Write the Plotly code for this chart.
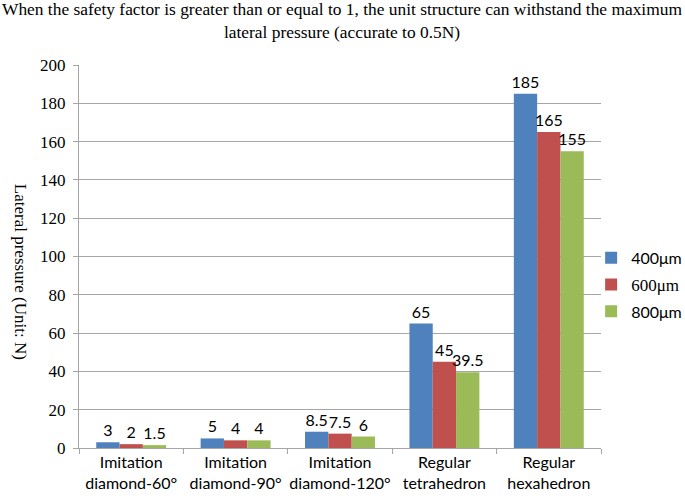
import plotly.graph_objects as go

categories = ["Imitation<br>diamond-60°", "Imitation<br>diamond-90°", "Imitation<br>diamond-120°",
              "Regular<br>tetrahedron", "Regular<br>hexahedron"]
series_names = ["400μm", "<span style=\"font-family:'Liberation Serif',serif;font-size:17px\">600μm</span>", "800μm"]
v400 = [3, 5, 8.5, 65, 185]
v600 = [2, 4, 7.5, 45, 165]
v800 = [1.5, 4, 6, 39.5, 155]
colors = ["#4F81BD", "#C0504D", "#9BBB59"]
y_ticks = [0, 20, 40, 60, 80, 100, 120, 140, 160, 180, 200]

SANS = "Lato, 'Open Sans', sans-serif"
SERIF = "'Liberation Serif', 'Times New Roman', serif"

fig = go.Figure()
for i, (name, vals, col) in enumerate(zip(series_names, [v400, v600, v800], colors)):
    fig.add_trace(go.Bar(
        x=categories, y=vals, name=name, legendgroup=f"g{i}",
        marker=dict(color=col, line=dict(width=0)),
        text=[f"{v:g}" for v in vals], textposition="outside", cliponaxis=False,
        constraintext="none", textfont=dict(family=SANS, size=16, color="black"),
    ))

fig.update_layout(
    width=685, height=503,
    margin=dict(l=79, r=84, t=65, b=55, autoexpand=False),
    paper_bgcolor="white", plot_bgcolor="white",
    barmode="group", bargap=0.33, bargroupgap=0,
    showlegend=True,
    legend=dict(x=1.165, xanchor="right", y=0.426, yanchor="middle",
                font=dict(family=SANS, size=16, color="black"),
                itemwidth=30, tracegroupgap=3, bgcolor="rgba(0,0,0,0)"),
    xaxis=dict(showline=True, linecolor="#A6A6A6", linewidth=1,
               ticks="outside", tickcolor="#A6A6A6", ticklen=5,
               tickson="boundaries", showgrid=False, tickangle=0, automargin=False,
               tickfont=dict(family=SANS, size=16, color="black")),
    yaxis=dict(range=[0, 200], tickvals=y_ticks, showline=True, linecolor="#A6A6A6", linewidth=1,
               ticks="outside", tickcolor="#A6A6A6", ticklen=5, ticklabelstandoff=4, automargin=False,
               showgrid=True, gridcolor="#A6A6A6", gridwidth=1, zeroline=False,
               tickfont=dict(family=SERIF, size=17, color="black")),
    annotations=[
        dict(text="When the safety factor is greater than or equal to 1, the unit structure can withstand the maximum<br>lateral pressure (accurate to 0.5N)",
             xref="paper", yref="paper", x=0.5, y=1, xanchor="center", yanchor="bottom",
             xshift=2, yshift=21, showarrow=False, font=dict(family=SERIF, size=17.4, color="black")),
        dict(text="Lateral pressure (Unit: N)", textangle=90,
             xref="paper", yref="paper", x=-0.113, y=0.46, xanchor="center", yanchor="middle",
             showarrow=False, font=dict(family=SERIF, size=17, color="black")),
    ],
)

fig.write_html("out.html", config={"displayModeBar": False},
               post_script="document.body.style.margin='0';document.body.style.overflow='hidden';")
